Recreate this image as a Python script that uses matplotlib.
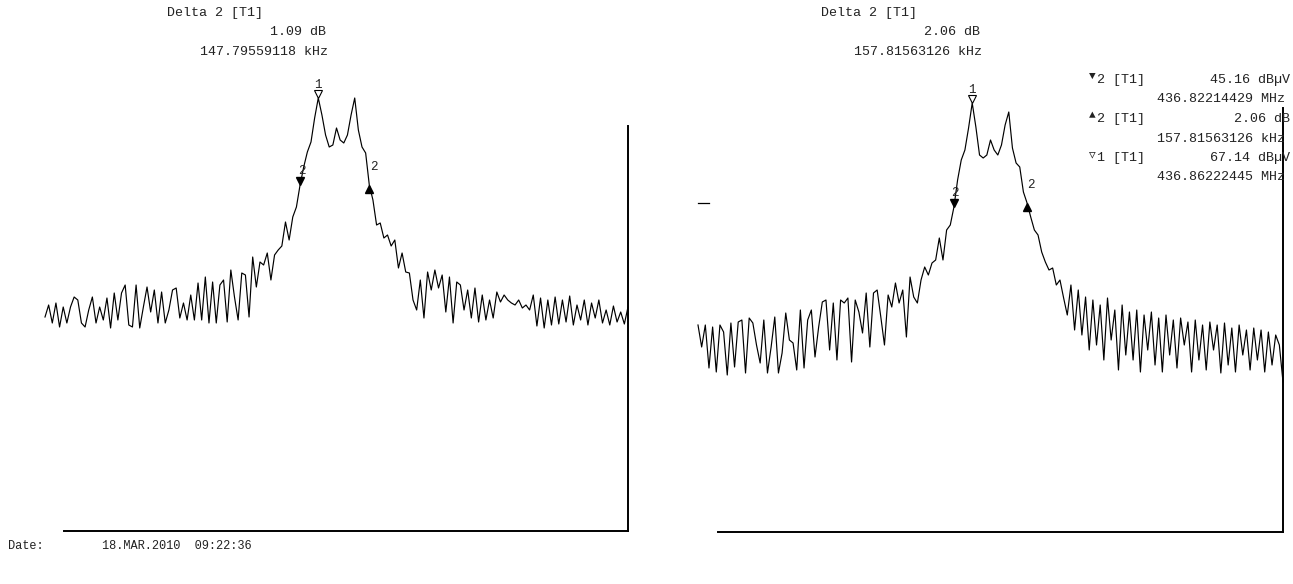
import matplotlib
matplotlib.use('Agg')
import matplotlib.pyplot as plt
import matplotlib.transforms as mtransforms
import numpy as np

# Sweep (same for both screens), MHz
f_start = 436.27
f_step = 0.0079

# Trace levels (dBuV), one value per sweep point
left_level = [
    24.6, 27.0, 23.4, 27.4, 22.6, 26.6, 23.4, 26.6, 28.6, 28.0,
    23.4, 22.6, 26.0, 28.6, 23.4, 26.6, 24.0, 28.4, 22.4, 29.4,
    24.0, 29.4, 31.0, 23.0, 22.6, 31.0, 22.4, 26.6, 30.6, 25.6,
    30.0, 23.4, 29.6, 23.4, 26.0, 30.0, 30.4, 24.4, 27.4, 24.0,
    29.0, 24.0, 31.4, 24.0, 32.6, 23.4, 31.6, 23.4, 31.0, 32.0,
    23.6, 34.0, 28.6, 24.0, 33.4, 33.0, 24.6, 36.6, 30.6, 35.6,
    35.0, 37.4, 32.0, 37.0, 38.0, 38.8, 43.6, 40.0, 44.6, 46.6,
    51.0, 54.6, 57.6, 59.6, 64.4, 68.4, 65.0, 61.0, 58.6, 59.0,
    62.4, 60.0, 59.4, 61.0, 65.0, 68.4, 62.0, 58.6, 57.4, 51.0,
    48.0, 43.0, 43.4, 40.4, 41.0, 38.8, 40.0, 34.4, 37.4, 33.6,
    33.4, 28.0, 26.0, 32.0, 24.4, 33.6, 30.0, 34.0, 30.4, 33.0,
    25.6, 32.6, 23.4, 31.6, 31.0, 26.0, 30.0, 24.4, 30.4, 23.6,
    29.0, 24.0, 28.0, 24.4, 29.6, 27.6, 29.0, 28.0, 27.4, 27.0,
    28.0, 26.4, 27.0, 26.0, 29.0, 22.8, 28.4, 22.4, 28.0, 23.0,
    28.6, 23.2, 28.0, 23.6, 28.8, 23.0, 27.0, 24.0, 28.0, 23.0,
    27.4, 24.4, 28.0, 23.4, 26.0, 23.0, 26.8, 23.6, 25.6, 23.2,
    26.6]

right_level = [
    23.0, 18.6, 23.0, 14.4, 22.6, 13.6, 23.0, 21.6, 13.0, 23.4,
    14.6, 23.6, 24.0, 13.4, 24.4, 23.4, 19.0, 15.4, 24.0, 13.4,
    18.6, 24.6, 13.4, 17.4, 25.4, 20.0, 19.4, 14.0, 26.0, 14.4,
    24.0, 26.0, 16.6, 22.6, 27.6, 28.0, 18.0, 27.4, 16.0, 28.0,
    27.4, 28.4, 15.6, 28.0, 25.6, 21.4, 29.4, 18.6, 29.4, 30.0,
    24.6, 19.0, 29.0, 26.6, 31.4, 27.4, 30.0, 20.6, 32.6, 28.6,
    27.4, 32.0, 34.6, 33.0, 35.4, 36.0, 40.4, 36.0, 42.0, 43.0,
    46.6, 52.0, 56.0, 58.0, 62.4, 67.4, 62.6, 57.0, 56.4, 57.0,
    60.0, 58.0, 57.0, 59.0, 63.0, 65.6, 58.4, 55.4, 54.6, 49.6,
    47.4, 44.6, 42.0, 41.0, 37.6, 35.6, 34.0, 34.4, 31.0, 32.0,
    28.4, 25.0, 31.0, 22.0, 30.0, 21.0, 28.6, 18.0, 28.0, 19.0,
    27.0, 16.0, 28.4, 20.0, 26.0, 14.0, 27.0, 17.0, 25.6, 16.0,
    26.0, 13.6, 25.0, 18.0, 25.6, 15.0, 24.4, 13.6, 25.0, 17.0,
    24.0, 14.4, 24.4, 19.0, 23.6, 13.6, 24.0, 16.0, 23.0, 14.0,
    23.6, 18.0, 23.0, 13.4, 23.4, 15.0, 22.4, 13.6, 23.0, 17.0,
    22.0, 14.0, 22.4, 16.0, 22.0, 13.6, 21.6, 15.0, 21.0, 19.0,
    11.6]

# Marker frequencies (MHz); delta marker given as offset from marker 2
left_m1, left_m2, left_d2 = 436.8625, 436.8230, 0.14779559118
right_m1, right_m2, right_d2 = 436.86222445, 436.82214429, 0.15781563126

left_header = ['Delta 2 [T1]', '1.09 dB', '147.79559118 kHz']
right_header = ['Delta 2 [T1]', '2.06 dB', '157.81563126 kHz']
marker_table = [
    ('\u25bc', '2 [T1]', '45.16 dB\u00b5V', '436.82214429 MHz'),
    ('\u25b2', '2 [T1]', '2.06 dB', '157.81563126 kHz'),
    ('\u25bd', '1 [T1]', '67.14 dB\u00b5V', '436.86222445 MHz'),
]
date_label = 'Date:'
date_value = '18.MAR.2010  09:22:36'

W, H = 1293, 584
MONO = ['Liberation Mono', 'DejaVu Sans Mono']
TXT = '#222222'
fig = plt.figure(figsize=(W / 100, H / 100), dpi=100)


def ftext(x, y, s, ha='left', size=9.6):
    fig.text(x / W, 1 - y / H, s, ha=ha, va='center', family=MONO,
             fontsize=size, color=TXT)


def panel(x0, y0, x1, y1, trace_x0, level, ylim, m1, m2, d2):
    ax = fig.add_axes([x0 / W, 1 - y1 / H, (x1 - x0) / W, (y1 - y0) / H])
    freq = f_start + f_step * np.arange(len(level))
    level = np.array(level)
    # trace starts left of the frame
    px_per_mhz = (x1 - trace_x0) / (freq[-1] - freq[0])
    ax.set_xlim(freq[0] + (x0 - trace_x0) / px_per_mhz, freq[-1])
    ax.set_ylim(*ylim)
    ax.plot(freq, level, color='black', lw=0.85, clip_on=False)

    for s in ['top', 'left']:
        ax.spines[s].set_visible(False)
    for s in ['bottom', 'right']:
        ax.spines[s].set_linewidth(1.4)
    ax.set_xticks([])
    ax.set_yticks([])
    ax.patch.set_alpha(0)

    up = mtransforms.ScaledTranslation(0, 3 / 72, fig.dpi_scale_trans)
    down = mtransforms.ScaledTranslation(0, -3 / 72, fig.dpi_scale_trans)
    i1 = np.argmin(np.abs(freq - m1))
    i2 = np.argmin(np.abs(freq - m2))
    i3 = np.argmin(np.abs(freq - (m2 + d2)))
    ax.plot(freq[i1], level[i1], marker='v', ms=6, mfc='white', mec='black',
            mew=0.8, transform=ax.transData + up, clip_on=False)
    ax.plot(freq[i2], level[i2], marker='v', ms=6, color='black',
            transform=ax.transData + up, clip_on=False)
    ax.plot(freq[i3], level[i3], marker='^', ms=6, color='black',
            transform=ax.transData + down, clip_on=False)
    for i, lab, dx, dy in [(i1, '1', 0, 5), (i2, '2', 1, 6), (i3, '2', 3, 9)]:
        ax.annotate(lab, (freq[i], level[i]), xytext=(dx, dy),
                    textcoords='offset points', ha='center', va='bottom',
                    family=MONO, fontsize=9, color=TXT,
                    annotation_clip=False)
    return ax, freq, level[i3]


panel(64, 126, 628, 531, 45, left_level, (-18.2, 62.8),
      left_m1, left_m2, left_d2)
ax_r, freq_r, d2_level = panel(718, 108, 1283, 532, 698, right_level,
                               (-18.4, 66.4), right_m1, right_m2, right_d2)
# short display line at the delta marker level
ax_r.plot([freq_r[0], freq_r[3]], [d2_level, d2_level], color='black',
          lw=0.9, clip_on=False)

# headers above each screen
for dx, head in [(0, left_header), (654, right_header)]:
    ftext(167 + dx, 13, head[0])
    ftext(326 + dx, 32, head[1], ha='right')
    ftext(200 + dx, 52, head[2])

# marker table on the right screen
row = 80
for sym, name, val, freq_txt in marker_table:
    ftext(1092, row - 4, sym, ha='center', size=8)
    ftext(1097, row, name)
    ftext(1290, row, val, ha='right')
    ftext(1285, row + 19.5, freq_txt, ha='right')
    row += 39

ftext(8, 546, date_label, size=8.6)
ftext(102, 546, date_value, size=8.6)

fig.savefig('out.png', dpi=100)
